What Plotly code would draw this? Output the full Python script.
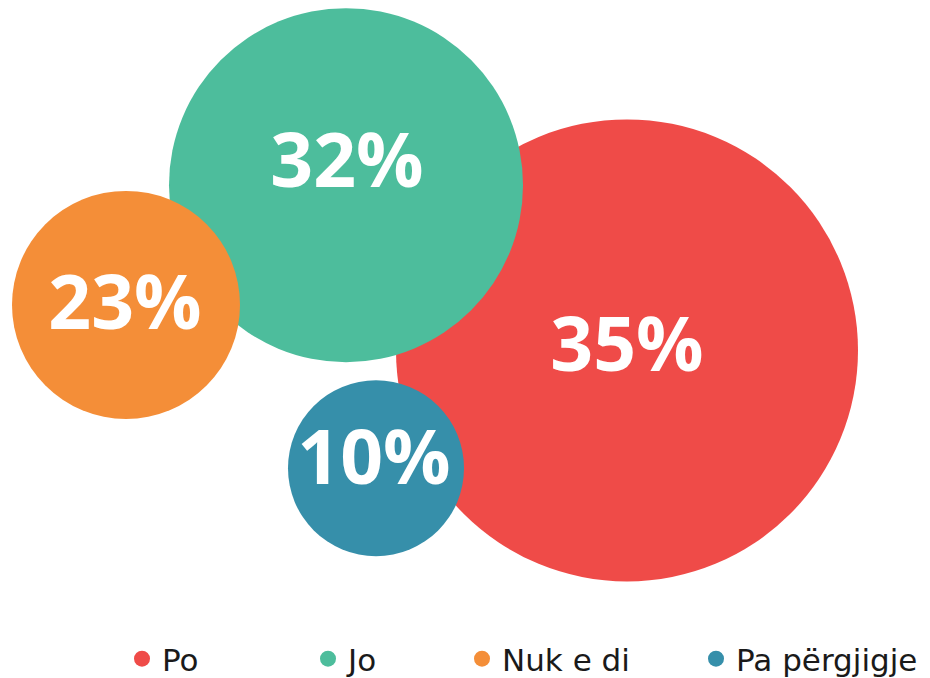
import plotly.graph_objects as go

# Datos
categorias = ['Po', 'Jo', 'Nuk e di', 'Pa përgjigje']
valores = [35, 32, 23, 10]
colores = ['#EF4B48', '#4DBD9C', '#F48E38', '#368FAA']

# Posición y diámetro de cada burbuja (px del lienzo)
burbuja_x = [627, 346, 126, 376]
burbuja_y = [350, 183, 304, 469]
diametros = [462, 354, 228, 176]

# Posición de las etiquetas
etiqueta_x = [627, 347, 125, 374]
etiqueta_y = [352, 166, 309, 466]

# Posición de cada leyenda (x en px)
leyenda_x = [114, 300, 454, 688]

W, H = 930, 678
# desplazamiento del margen de la página
DX, DY = 8, 4

fig = go.Figure()

for i, cat in enumerate(categorias):
    nombre_leyenda = 'legend' if i == 0 else f'legend{i + 1}'
    fig.add_trace(go.Scatter(
        x=[burbuja_x[i]],
        y=[burbuja_y[i]],
        mode='markers',
        name=cat,
        marker=dict(size=diametros[i], color=colores[i], opacity=1,
                    line=dict(width=0)),
        legend=nombre_leyenda,
        hoverinfo='skip'
    ))

fig.add_trace(go.Scatter(
    x=etiqueta_x,
    y=etiqueta_y,
    mode='text',
    text=[f'{v}%' for v in valores],
    textposition='middle center',
    textfont=dict(family='Open Sans', size=75, color='white', weight=700),
    showlegend=False,
    hoverinfo='skip'
))

leyendas = {}
for i in range(len(categorias)):
    clave = 'legend' if i == 0 else f'legend{i + 1}'
    leyendas[clave] = dict(
        x=leyenda_x[i] / W,
        y=1 - 658 / H,
        xanchor='left',
        yanchor='middle',
        orientation='h',
        itemsizing='trace',
        bgcolor='rgba(0,0,0,0)',
        font=dict(family='DejaVu Sans', size=31, color='#1a1a1a', weight=400),
    )

fig.update_layout(
    width=W,
    height=H,
    margin=dict(l=0, r=0, t=0, b=0),
    paper_bgcolor='white',
    plot_bgcolor='white',
    xaxis=dict(range=[DX, W + DX], visible=False, fixedrange=True),
    yaxis=dict(range=[H + DY, DY], visible=False, fixedrange=True),
    **leyendas
)

fig.write_html('out.html')
